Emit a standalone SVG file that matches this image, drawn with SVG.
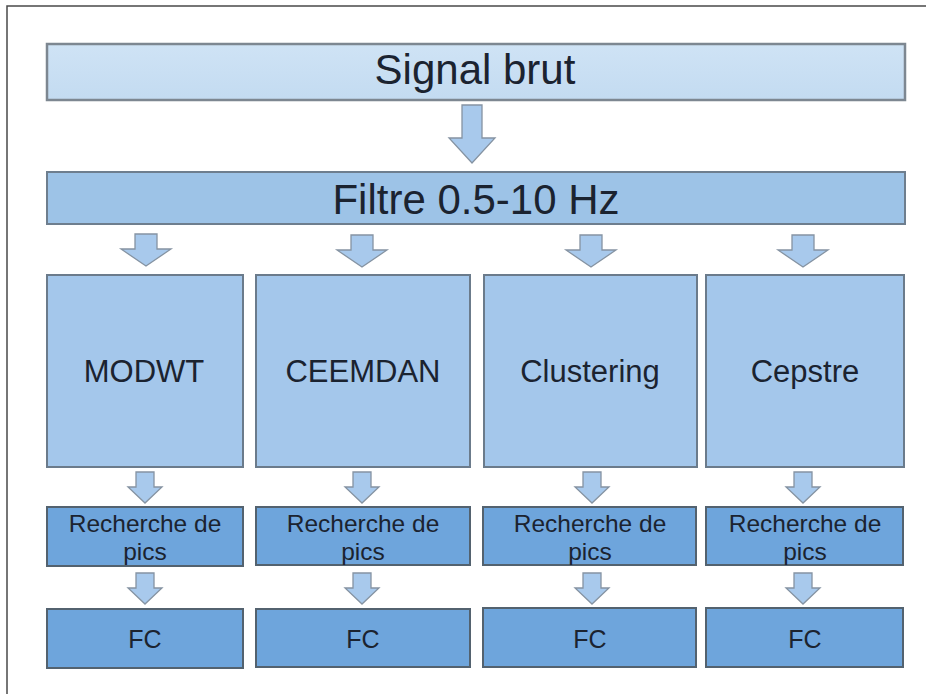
<svg xmlns="http://www.w3.org/2000/svg" xmlns:xlink="http://www.w3.org/1999/xlink" width="926" height="694" viewBox="0 0 926 694">
  <style>
    .lbl { font-family: "Liberation Sans", Arial, sans-serif; fill: #1b2330; text-anchor: middle; }
    .top { fill: url(#gTop); stroke: #7d8791; stroke-width: 2.5; }
    .filt { fill: #9dc3e7; stroke: #6e7e8e; stroke-width: 2; }
    .meth { fill: #a4c7eb; stroke: #6b7b8b; stroke-width: 2; }
    .step { fill: #6ea5dc; stroke: #53626f; stroke-width: 2; }
    .arr { fill: #a8c9ec; stroke: #8593a2; stroke-width: 1.3; stroke-linejoin: miter; }
  </style>
  <defs>
    <linearGradient id="gTop" x1="0" y1="0" x2="0" y2="1">
      <stop offset="0" stop-color="#cfe3f5"/>
      <stop offset="1" stop-color="#c3dbf1"/>
    </linearGradient>
    <!-- block arrows, origin at top centre -->
    <path id="arrBig" d="M-10,0 H10 V33 H23 L0,58 L-23,33 H-10 Z"/>
    <path id="arrMid" d="M-11,0 H11 V15 H25 L0,32 L-25,15 H-11 Z"/>
    <path id="arrSmall" d="M-9,0 H9 V15 H17 L0,31 L-17,15 H-9 Z"/>
  </defs>

  <rect width="926" height="694" fill="#ffffff"/>
  <!-- page frame -->
  <path d="M7,694 V6 H926" fill="none" stroke="#4a4a4a" stroke-width="1.5"/>

  <g id="connectors">
    <use xlink:href="#arrBig" class="arr" x="472" y="105"/>
    <use xlink:href="#arrMid" class="arr" x="146" y="234"/>
    <use xlink:href="#arrMid" class="arr" x="362" y="235"/>
    <use xlink:href="#arrMid" class="arr" x="591" y="235"/>
    <use xlink:href="#arrMid" class="arr" x="803" y="235"/>
    <use xlink:href="#arrSmall" class="arr" x="145" y="472"/>
    <use xlink:href="#arrSmall" class="arr" x="362" y="472"/>
    <use xlink:href="#arrSmall" class="arr" x="592" y="472"/>
    <use xlink:href="#arrSmall" class="arr" x="803" y="472"/>
    <use xlink:href="#arrSmall" class="arr" x="145" y="573"/>
    <use xlink:href="#arrSmall" class="arr" x="362" y="573"/>
    <use xlink:href="#arrSmall" class="arr" x="592" y="573"/>
    <use xlink:href="#arrSmall" class="arr" x="803" y="573"/>
  </g>

  <g id="signal">
    <rect class="top" x="47" y="44" width="858" height="56"/>
    <text class="lbl" x="475" y="84" font-size="42">Signal brut</text>
  </g>
  <g id="filtre">
    <rect class="filt" x="47" y="172" width="858" height="52"/>
    <text class="lbl" x="476" y="214" font-size="42">Filtre 0.5-10 Hz</text>
  </g>

  <g id="modwt">
    <rect class="meth" x="47" y="275" width="196" height="192"/>
    <text class="lbl" x="144" y="382" font-size="31">MODWT</text>
  </g>
  <g id="ceemdan">
    <rect class="meth" x="256" y="275" width="214" height="192"/>
    <text class="lbl" x="363" y="382" font-size="31">CEEMDAN</text>
  </g>
  <g id="clustering">
    <rect class="meth" x="484" y="275" width="213" height="192"/>
    <text class="lbl" x="590" y="382" font-size="31">Clustering</text>
  </g>
  <g id="cepstre">
    <rect class="meth" x="706" y="275" width="198" height="192"/>
    <text class="lbl" x="805" y="382" font-size="31">Cepstre</text>
  </g>

  <g id="pics1">
    <rect class="step" x="47" y="507" width="196" height="59"/>
    <text class="lbl" x="145" y="532" font-size="24.5">Recherche de</text>
    <text class="lbl" x="145" y="560" font-size="24.5">pics</text>
  </g>
  <g id="pics2">
    <rect class="step" x="256" y="507" width="214" height="58"/>
    <text class="lbl" x="363" y="532" font-size="24.5">Recherche de</text>
    <text class="lbl" x="363" y="560" font-size="24.5">pics</text>
  </g>
  <g id="pics3">
    <rect class="step" x="483" y="507" width="213" height="58"/>
    <text class="lbl" x="590" y="532" font-size="24.5">Recherche de</text>
    <text class="lbl" x="590" y="560" font-size="24.5">pics</text>
  </g>
  <g id="pics4">
    <rect class="step" x="706" y="507" width="197" height="58"/>
    <text class="lbl" x="805" y="532" font-size="24.5">Recherche de</text>
    <text class="lbl" x="805" y="560" font-size="24.5">pics</text>
  </g>

  <g id="fc1">
    <rect class="step" x="47" y="609" width="196" height="59"/>
    <text class="lbl" x="145" y="648" font-size="25">FC</text>
  </g>
  <g id="fc2">
    <rect class="step" x="256" y="609" width="214" height="58"/>
    <text class="lbl" x="363" y="648" font-size="25">FC</text>
  </g>
  <g id="fc3">
    <rect class="step" x="483" y="608" width="213" height="59"/>
    <text class="lbl" x="590" y="648" font-size="25">FC</text>
  </g>
  <g id="fc4">
    <rect class="step" x="706" y="608" width="197" height="59"/>
    <text class="lbl" x="805" y="648" font-size="25">FC</text>
  </g>
</svg>
